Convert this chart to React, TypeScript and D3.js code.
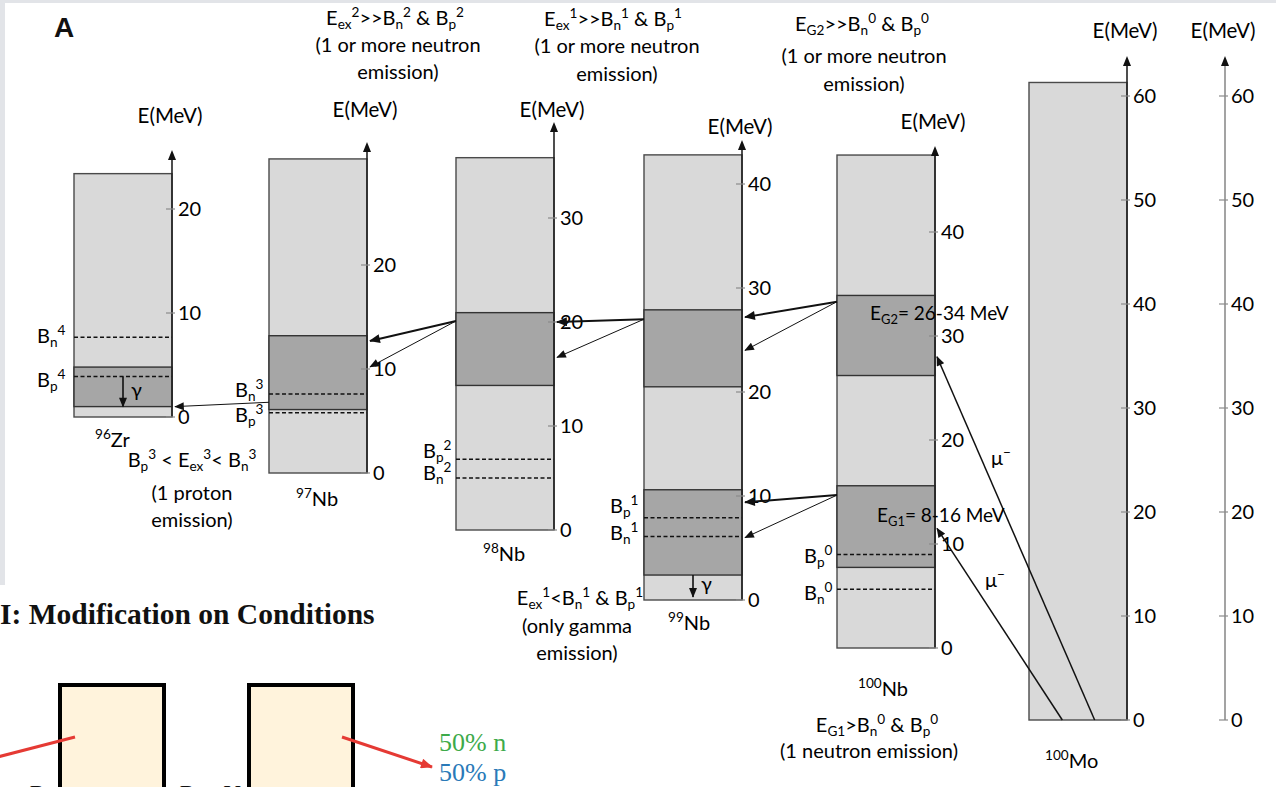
import React from "react";
import * as d3 from "d3";

// ---------- data (MeV values) ----------
const nuclideMass = ["96", "97", "98", "99", "100", "100"];
const nuclideSymbol = ["Zr", "Nb", "Nb", "Nb", "Nb", "Mo"];
const boxTopMeV = [23.4, 30.2, 35.8, 42.8, 47.4, 61.3];
const tickMax = [20, 20, 30, 40, 40, 60];
const extraAxisTickMax = 60;

const bandCol = [0, 1, 2, 3, 3, 4, 4];
const bandLow = [1.0, 6.1, 13.9, 20.5, 2.4, 26.2, 7.75];
const bandHigh = [4.8, 13.2, 20.9, 27.9, 10.6, 33.9, 15.6];

const levelCol = [0, 0, 1, 1, 2, 2, 3, 3, 4, 4];
const levelMeV = [7.66, 3.9, 7.6, 5.8, 6.8, 5.0, 7.9, 6.1, 9.0, 5.65];
const levelKind = ["n", "p", "n", "p", "p", "n", "p", "n", "p", "n"];
const levelIndex = ["4", "4", "3", "3", "2", "2", "1", "1", "0", "0"];

// transitions: from column (box left edge) to column (axis)
const trFromCol = [4, 4, 4, 4, 3, 3, 2, 2, 1];
const trFromMeV = [33.3, 33.3, 14.7, 14.7, 27.0, 27.0, 20.1, 20.1, 6.8];
const trToCol = [3, 3, 3, 3, 2, 2, 1, 1, 0];
const trToMeV = [27.2, 24.0, 9.4, 6.0, 20.0, 16.6, 12.7, 10.2, 1.0];
const trThick = [true, false, true, false, true, false, true, false, false];

const gammaCol = [0, 3];
const gammaFrom = [3.9, 2.4];
const gammaTo = [1.0, 0.3];

const muTargetMeV = [11.5, 28.0];

// ---------- layout ----------
const PX = 10.4;
const axisX = [172, 367, 554, 742, 935, 1127];
const extraAxisX = 1225;
const zeroY = [417, 473, 530, 600, 648, 720];
const tipY = [150, 142, 122, 140, 146, 56];
const labelY = [123, 117, 117, 134, 129, 38];
const BOXW = 98;
const FONT = "Lato, 'Open Sans', sans-serif";
const SERIF = "'Liberation Serif', 'Times New Roman', serif";
const INK = "#000";
const LIGHT = "#d9d9d9";
const DARK = "#a6a6a6";

const yScale = (c: number, max: number) =>
  d3.scaleLinear().domain([0, max]).range([zeroY[c], zeroY[c] - max * PX]);

const scales = boxTopMeV.map((m, i) => yScale(i, m + 5));
const extraScale = d3.scaleLinear().domain([0, 65]).range([720, 720 - 65 * PX]);

type Seg = [string, string?];
function Rich(props: {
  x: number;
  y: number;
  segs: Seg[];
  size?: number;
  anchor?: string;
  fill?: string;
}) {
  const size = props.size ?? 20;
  return (
    <text
      x={props.x}
      y={props.y}
      fontSize={size}
      fontFamily={FONT}
      textAnchor={props.anchor ?? "start"}
      fill={props.fill ?? INK}
    >
      {props.segs.map(([t, k], i) =>
        k === "sub" ? (
          <tspan key={i} fontSize={size * 0.68} baselineShift={-size * 0.22}>
            {t}
          </tspan>
        ) : k === "sup" ? (
          <tspan key={i} fontSize={size * 0.68} baselineShift={size * 0.38}>
            {t}
          </tspan>
        ) : (
          <tspan key={i}>{t}</tspan>
        )
      )}
    </text>
  );
}

function VAxis(props: { x: number; y0: number; tip: number; ticks: number[]; scale: d3.ScaleLinear<number, number>; color: string }) {
  const { x, y0, tip, ticks, scale, color } = props;
  return (
    <g>
      <line x1={x} x2={x} y1={y0} y2={tip + 8} stroke={color} strokeWidth={1.6} />
      <path d={`M${x - 4},${tip + 10}L${x},${tip}L${x + 4},${tip + 10}Z`} fill="#111" />
      {ticks.map((t) => (
        <g key={t}>
          <line x1={x - 6} x2={x + 3} y1={scale(t)} y2={scale(t)} stroke="#8a8a8a" strokeWidth={1.2} />
          <text x={x + 6} y={scale(t) + 7} fontSize={20} fontFamily={FONT} fill={INK}>
            {t}
          </text>
        </g>
      ))}
    </g>
  );
}

export default function App() {
  const ticksFor = (max: number) => d3.range(0, max + 1, 10);
  return (
    <svg
      width={1276}
      height={787}
      style={{ position: "absolute", left: 0, top: 0, display: "block", background: "#fff" }}
    >
      <defs>
        <marker id="ahThick" viewBox="0 0 12 10" refX="11" refY="5" markerWidth="12" markerHeight="9" markerUnits="userSpaceOnUse" orient="auto">
          <path d="M0,0L12,5L0,10Z" fill="#111" />
        </marker>
        <marker id="ahThin" viewBox="0 0 12 10" refX="11" refY="5" markerWidth="11" markerHeight="8" markerUnits="userSpaceOnUse" orient="auto">
          <path d="M0,0L12,5L0,10Z" fill="#111" />
        </marker>
        <marker id="ahRed" viewBox="0 0 12 10" refX="11" refY="5" markerWidth="13" markerHeight="10" markerUnits="userSpaceOnUse" orient="auto">
          <path d="M0,0L12,5L0,10Z" fill="#e53a34" />
        </marker>
      </defs>
      <rect x={0} y={0} width={1276} height={787} fill="#fff" />
      {/* frame strips */}
      <rect x={0} y={0} width={1276} height={3} fill="#e2e4e8" />
      <rect x={0} y={0} width={5} height={585} fill="#e2e4e8" />

      <text x={54} y={37} fontSize={28} fontWeight="bold" fontFamily="'Liberation Sans', Arial, sans-serif" fill="#111">
        A
      </text>

      {/* boxes */}
      {boxTopMeV.map((top, c) => {
        const s = scales[c];
        const x0 = axisX[c] - BOXW;
        return <rect key={c} x={x0} y={s(top)} width={BOXW} height={s(0) - s(top)} fill={LIGHT} stroke="#4a4a4a" strokeWidth={1.4} />;
      })}
      {bandLow.map((lo, i) => {
        const c = bandCol[i];
        const s = scales[c];
        return (
          <rect key={i} x={axisX[c] - BOXW} y={s(bandHigh[i])} width={BOXW} height={s(lo) - s(bandHigh[i])} fill={DARK} stroke="#333" strokeWidth={1.4} />
        );
      })}
      {levelMeV.map((e, i) => {
        const c = levelCol[i];
        const y = scales[c](e);
        return <line key={i} x1={axisX[c] - BOXW} x2={axisX[c]} y1={y} y2={y} stroke="#111" strokeWidth={1.5} strokeDasharray="4,2.5" />;
      })}

      {/* axes */}
      {boxTopMeV.map((_, c) => (
        <VAxis key={c} x={axisX[c]} y0={zeroY[c]} tip={tipY[c]} ticks={ticksFor(tickMax[c])} scale={scales[c]} color="#222" />
      ))}
      <VAxis x={extraAxisX} y0={720} tip={56} ticks={ticksFor(extraAxisTickMax)} scale={extraScale} color="#8c8c8c" />
      {boxTopMeV.map((_, c) => (
        <text key={c} x={axisX[c] - 2} y={labelY[c]} fontSize={20.5} fontFamily={FONT} textAnchor="middle" fill={INK}>
          E(MeV)
        </text>
      ))}
      <text x={extraAxisX - 2} y={38} fontSize={20.5} fontFamily={FONT} textAnchor="middle" fill={INK}>
        E(MeV)
      </text>

      {/* level labels */}
      {levelMeV.map((e, i) => {
        const c = levelCol[i];
        const y = scales[c](e);
        let x = axisX[c] - BOXW - 34;
        let dy = 7;
        if (c === 0) {
          x = 37;
          dy = i === 0 ? 6 : 11;
        } else if (c === 1) {
          x = 235;
          dy = levelKind[i] === "n" ? 3 : 9;
        } else if (c === 2) {
          x = 423;
          dy = levelKind[i] === "p" ? -1 : 2;
        } else if (c === 3) {
          x = 610;
          dy = levelKind[i] === "p" ? -5 : 3;
        } else if (c === 4) {
          x = 804;
          dy = levelKind[i] === "p" ? 9 : 11;
        }
        return <Rich key={i} x={x} y={y + dy} size={20} segs={[["B"], [levelKind[i], "sub"], [levelIndex[i], "sup"]]} />;
      })}

      {/* transitions */}
      {trFromMeV.map((e, i) => {
        const fc = trFromCol[i];
        const tc = trToCol[i];
        return (
          <line
            key={i}
            x1={axisX[fc] - BOXW}
            y1={scales[fc](e)}
            x2={axisX[tc] + 3}
            y2={scales[tc](trToMeV[i])}
            stroke="#111"
            strokeWidth={trThick[i] ? 2 : 1}
            markerEnd={`url(#${trThick[i] ? "ahThick" : "ahThin"})`}
          />
        );
      })}

      {/* gamma arrows */}
      {gammaCol.map((c, i) => {
        const x = axisX[c] - BOXW / 2;
        const s = scales[c];
        return (
          <g key={i}>
            <line x1={x} x2={x} y1={s(gammaFrom[i])} y2={s(gammaTo[i])} stroke="#111" strokeWidth={1.6} markerEnd="url(#ahThin)" />
            <text x={x + 8} y={(s(gammaFrom[i]) + s(gammaTo[i])) / 2 + 5} fontSize={20} fontFamily={FONT} fill={INK}>
              γ
            </text>
          </g>
        );
      })}

      {/* muon arrows from 100Mo */}
      {muTargetMeV.map((e, i) => {
        const xs = axisX[5] - BOXW + BOXW * (i === 0 ? 0.34 : 0.67);
        return <line key={i} x1={xs} y1={scales[5](0)} x2={axisX[4] + 2} y2={scales[4](e)} stroke="#111" strokeWidth={1.5} markerEnd="url(#ahThin)" />;
      })}
      <Rich x={991} y={465} size={20} segs={[["μ"], ["−", "sup"]]} />
      <Rich x={985} y={587} size={20} segs={[["μ"], ["−", "sup"]]} />

      {/* band labels */}
      <Rich x={870} y={320} size={19} segs={[["E"], ["G2", "sub"], ["= 26-34 MeV"]]} />
      <Rich x={877} y={522} size={19} segs={[["E"], ["G1", "sub"], ["= 8-16 MeV"]]} />

      {/* nuclide names */}
      {nuclideMass.map((m, c) => {
        const pos = [
          [95, 447],
          [296, 506],
          [483, 561],
          [668, 630],
          [858, 696],
          [1045, 768],
        ][c];
        return <Rich key={c} x={pos[0]} y={pos[1]} size={20} segs={[[m, "sup"], [nuclideSymbol[c]]]} />;
      })}

      {/* condition texts */}
      <Rich x={395} y={25} size={20} anchor="middle" segs={[["E"], ["ex", "sub"], ["2", "sup"], [">>B"], ["n", "sub"], ["2", "sup"], [" & B"], ["p", "sub"], ["2", "sup"]]} />
      <Rich x={398} y={52} size={20} anchor="middle" segs={[["(1 or more neutron"]]} />
      <Rich x={398} y={79} size={20} anchor="middle" segs={[["emission)"]]} />

      <Rich x={613} y={26} size={20} anchor="middle" segs={[["E"], ["ex", "sub"], ["1", "sup"], [">>B"], ["n", "sub"], ["1", "sup"], [" & B"], ["p", "sub"], ["1", "sup"]]} />
      <Rich x={617} y={53} size={20} anchor="middle" segs={[["(1 or more neutron"]]} />
      <Rich x={617} y={81} size={20} anchor="middle" segs={[["emission)"]]} />

      <Rich x={862} y={31} size={20} anchor="middle" segs={[["E"], ["G2", "sub"], [">>B"], ["n", "sub"], ["0", "sup"], [" & B"], ["p", "sub"], ["0", "sup"]]} />
      <Rich x={864} y={63} size={20} anchor="middle" segs={[["(1 or more neutron"]]} />
      <Rich x={864} y={91} size={20} anchor="middle" segs={[["emission)"]]} />

      <Rich x={192} y={467} size={20} anchor="middle" segs={[["B"], ["p", "sub"], ["3", "sup"], [" < E"], ["ex", "sub"], ["3", "sup"], ["< B"], ["n", "sub"], ["3", "sup"]]} />
      <Rich x={192} y={500} size={20} anchor="middle" segs={[["(1 proton"]]} />
      <Rich x={192} y={527} size={20} anchor="middle" segs={[["emission)"]]} />

      <Rich x={580} y={605} size={20} anchor="middle" segs={[["E"], ["ex", "sub"], ["1", "sup"], ["<B"], ["n", "sub"], ["1", "sup"], [" & B"], ["p", "sub"], ["1", "sup"]]} />
      <Rich x={577} y={633} size={20} anchor="middle" segs={[["(only gamma"]]} />
      <Rich x={577} y={660} size={20} anchor="middle" segs={[["emission)"]]} />

      <Rich x={877} y={732} size={20} anchor="middle" segs={[["E"], ["G1", "sub"], [">B"], ["n", "sub"], ["0", "sup"], [" & B"], ["p", "sub"], ["0", "sup"]]} />
      <Rich x={869} y={758} size={20} anchor="middle" segs={[["(1 neutron emission)"]]} />

      {/* lower-left panel */}
      <text x={0} y={624} fontSize={29.5} fontWeight="bold" fontFamily={SERIF} fill="#111">
        I: Modification on Conditions
      </text>
      <rect x={60} y={685} width={104} height={120} fill="#fff3dc" stroke="#000" strokeWidth={4} />
      <rect x={249} y={685} width={104} height={120} fill="#fff3dc" stroke="#000" strokeWidth={4} />
      <line x1={-10} y1={759} x2={75} y2={737} stroke="#e53a34" strokeWidth={3} />
      <line x1={342} y1={737} x2={432} y2={767} stroke="#e53a34" strokeWidth={3} markerEnd="url(#ahRed)" />
      <text x={439} y={751} fontSize={26} fontFamily={SERIF} fill="#3daa4a">
        50% n
      </text>
      <text x={439} y={781} fontSize={26} fontFamily={SERIF} fill="#2a7ab8">
        50% p
      </text>
      <text x={28} y={803} fontSize={25} fontStyle="italic" fontFamily={SERIF} fill="#111">
        B
      </text>
      <text x={178} y={803} fontSize={25} fontStyle="italic" fontFamily={SERIF} fill="#111">
        B + V
      </text>
    </svg>
  );
}
